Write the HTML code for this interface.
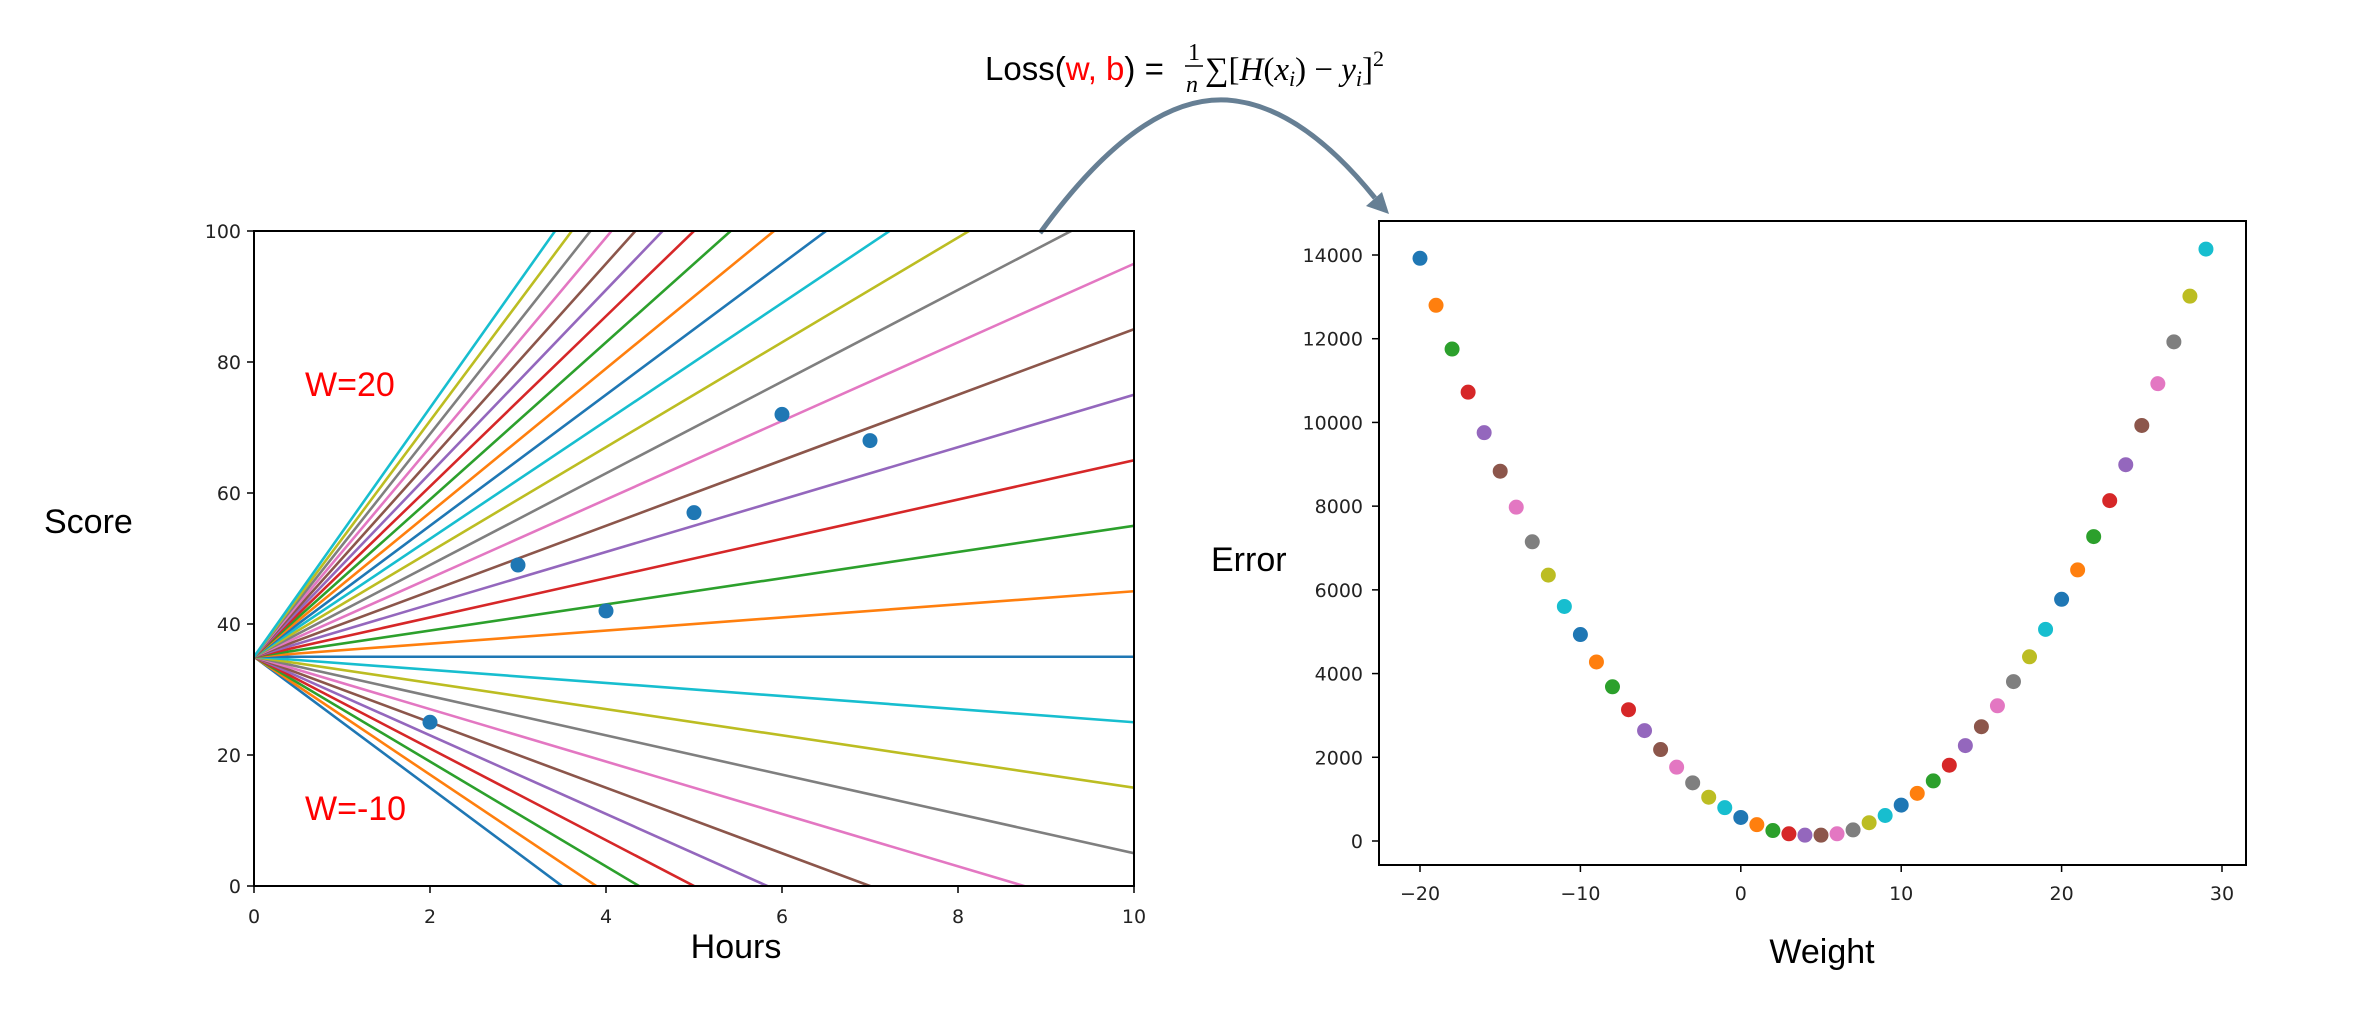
<!DOCTYPE html>
<html><head><meta charset="utf-8"><style>
html,body{margin:0;padding:0;background:#fff;width:2370px;height:1025px;overflow:hidden;}
svg{display:block;font-family:"DejaVu Sans","Liberation Sans",sans-serif;}
.big{font-family:"Liberation Sans","DejaVu Sans",sans-serif;}
</style></head><body>
<svg id="chart" width="2370" height="1025" viewBox="0 0 2370 1025">
<g>
<text x="985" y="80" font-size="33" class="big">Loss(<tspan fill="#ff0000">w, b</tspan>) =</text>
<text x="1188" y="60" font-size="24" font-family="Liberation Serif">1</text>
<line x1="1185" y1="66" x2="1203" y2="66" stroke="#000" stroke-width="1.5"/>
<text x="1186" y="92" font-size="24" font-family="Liberation Serif" font-style="italic">n</text>
<text x="1205" y="80" font-size="33" font-family="Liberation Serif">∑[<tspan font-style="italic">H</tspan>(<tspan font-style="italic">x</tspan><tspan font-style="italic" font-size="22" dy="6">i</tspan><tspan dy="-6">) − </tspan><tspan font-style="italic">y</tspan><tspan font-style="italic" font-size="22" dy="6">i</tspan><tspan dy="-6">]</tspan><tspan font-size="22" dy="-14">2</tspan></text>
</g>
<path d="M1040,233 Q1140,95 1227,100 Q1300,105 1375,198" fill="none" stroke="#667f94" stroke-width="5"/>
<polygon points="1389,214 1366,206 1382,192" fill="#667f94"/>
<g id="left"></g>
<g id="right"></g>
</svg>
<script>
const lineWeights=[-10,-9,-8,-7,-6,-5,-4,-3,-2,-1,0,1,2,3,4,5,6,7,8,9,10,11,12,13,14,15,16,17,18,19];
const lineBias=35;
const hours=[2,3,4,5,6,7];
const scores=[25,49,42,57,72,68];
const xTicksL=[0,2,4,6,8,10];
const yTicksL=[0,20,40,60,80,100];
const weights=[-20,-19,-18,-17,-16,-15,-14,-13,-12,-11,-10,-9,-8,-7,-6,-5,-4,-3,-2,-1,0,1,2,3,4,5,6,7,8,9,10,11,12,13,14,15,16,17,18,19,20,21,22,23,24,25,26,27,28,29];
const errors=[13922,12798,11753,10723,9755,8834,7976,7148,6352,5603,4932,4277,3684,3137,2638,2185,1764,1389,1046,796,562,390,250,172,140,140,172,265,437,609,858,1139,1436,1811,2279,2731,3231,3808,4401,5057,5775,6477,7273,8132,8990,9927,10926,11925,13017,14141];
const xTicksR=[-20,-10,0,10,20,30];
const yTicksR=[0,2000,4000,6000,8000,10000,12000,14000];
const tab10=['#1f77b4','#ff7f0e','#2ca02c','#d62728','#9467bd','#8c564b','#e377c2','#7f7f7f','#bcbd22','#17becf'];
const NS='http://www.w3.org/2000/svg';
function mk(p,t,a){const e=document.createElementNS(NS,t);for(const k in a)e.setAttribute(k,a[k]);p.appendChild(e);return e;}

const L=document.getElementById('left');
const lx=v=>254+v*(1134-254)/10, ly=v=>886-v*(886-231)/100;
const defs=mk(document.getElementById('chart'),'defs',{});
const cp=mk(defs,'clipPath',{id:'cl'});mk(cp,'rect',{x:254,y:231,width:880,height:655});
const lg=mk(L,'g',{'clip-path':'url(#cl)'});
lineWeights.forEach((w,i)=>{
 const l=mk(lg,'line',{x1:lx(0),y1:ly(lineBias),x2:lx(10),y2:ly(lineBias+w*10),stroke:tab10[i%10],'stroke-width':2.6});
 
 
});
hours.forEach((h,i)=>{
 const c=mk(L,'circle',{cx:lx(h),cy:ly(scores[i]),r:7.5,fill:'#1f77b4'});
 
 
});
mk(L,'rect',{x:254,y:231,width:880,height:655,fill:'none',stroke:'#000','stroke-width':2});
xTicksL.forEach(t=>{
 mk(L,'line',{x1:lx(t),y1:886,x2:lx(t),y2:893,stroke:'#000','stroke-width':1.5});
 const tx=mk(L,'text',{x:lx(t),y:923,'font-size':19,'text-anchor':'middle',fill:'#222'});tx.textContent=t;
 
 
});
yTicksL.forEach(t=>{
 mk(L,'line',{x1:247,y1:ly(t),x2:254,y2:ly(t),stroke:'#000','stroke-width':1.5});
 const tx=mk(L,'text',{x:241,y:ly(t)+7,'font-size':19,'text-anchor':'end',fill:'#222'});tx.textContent=t;
 
 
});
let t;
t=mk(L,'text',{x:44,y:533,'font-size':34,class:'big'});t.textContent='Score';

t=mk(L,'text',{x:736,y:958,'font-size':34,'text-anchor':'middle',class:'big'});t.textContent='Hours';

t=mk(L,'text',{x:305,y:396,'font-size':34,fill:'#ff0000',class:'big'});t.textContent='W=20';

t=mk(L,'text',{x:305,y:820,'font-size':34,fill:'#ff0000',class:'big'});t.textContent='W=-10';


const R=document.getElementById('right');
const rx=v=>1420+(v+20)*(2222-1420)/50, ry=v=>841-v*(841-255)/14000;
weights.forEach((w,i)=>{
 const c=mk(R,'circle',{cx:rx(w),cy:ry(errors[i]),r:8,fill:tab10[i%10],stroke:'#fff','stroke-width':1});
 
 
});
mk(R,'rect',{x:1379,y:221,width:867,height:644,fill:'none',stroke:'#000','stroke-width':2});
xTicksR.forEach(v=>{
 mk(R,'line',{x1:rx(v),y1:865,x2:rx(v),y2:872,stroke:'#000','stroke-width':1.5});
 const tx=mk(R,'text',{x:rx(v),y:900,'font-size':19,'text-anchor':'middle',fill:'#222'});tx.textContent=v<0?'−'+(-v):v;
 
 
});
yTicksR.forEach(v=>{
 mk(R,'line',{x1:1372,y1:ry(v),x2:1379,y2:ry(v),stroke:'#000','stroke-width':1.5});
 const tx=mk(R,'text',{x:1363,y:ry(v)+7,'font-size':19,'text-anchor':'end',fill:'#222'});tx.textContent=v;
 
 
});
t=mk(R,'text',{x:1211,y:571,'font-size':34,class:'big'});t.textContent='Error';

t=mk(R,'text',{x:1822,y:963,'font-size':34,'text-anchor':'middle',class:'big'});t.textContent='Weight';

</script>
</body></html>
